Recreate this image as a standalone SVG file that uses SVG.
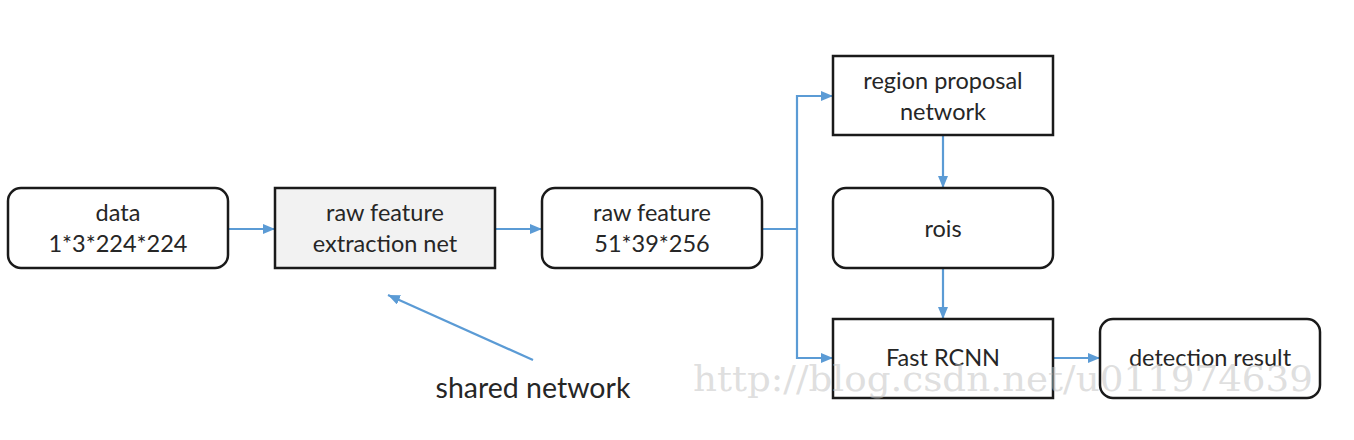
<svg xmlns="http://www.w3.org/2000/svg" width="1354" height="440" viewBox="0 0 1354 440">
<style>
.box{fill:#ffffff;stroke:#1a1a1a;stroke-width:2.5}
.gray{fill:#f2f2f2}
.t{font-family:Lato,"Open Sans",sans-serif;font-size:23.5px;fill:#262626;text-anchor:middle}
.c{fill:none;stroke:#5b9bd5;stroke-width:2.2}
</style>
<defs>
<marker id="ah" viewBox="0 0 12 10" refX="12" refY="5" markerWidth="12" markerHeight="10" markerUnits="userSpaceOnUse" orient="auto">
<path d="M0,0 L12,5 L0,10 Z" fill="#5b9bd5"/>
</marker>
</defs>
<rect width="1354" height="440" fill="#ffffff"/>
<g id="connectors">
<path class="c" d="M228,229 H275" marker-end="url(#ah)"/>
<path class="c" d="M495,229 H542" marker-end="url(#ah)"/>
<path class="c" d="M762,229 H797"/>
<path class="c" d="M797,229 V96 H833" marker-end="url(#ah)"/>
<path class="c" d="M797,229 V358 H833" marker-end="url(#ah)"/>
<path class="c" d="M943,135 V188" marker-end="url(#ah)"/>
<path class="c" d="M943,268 V319" marker-end="url(#ah)"/>
<path class="c" d="M1053,358 H1100" marker-end="url(#ah)"/>
<path class="c" d="M533,360 L388,295" marker-end="url(#ah)"/>
</g>
<g id="data">
<rect class="box" x="8" y="188" width="220" height="80" rx="13"/>
<text class="t" x="118" y="221">data</text>
<text class="t" x="118" y="252">1*3*224*224</text>
</g>
<g id="extraction">
<rect class="box gray" x="275" y="188" width="220" height="80"/>
<text class="t" x="385" y="221">raw feature</text>
<text class="t" x="385" y="252">extraction net</text>
</g>
<g id="rawfeature">
<rect class="box" x="542" y="188" width="220" height="80" rx="13"/>
<text class="t" x="652" y="221">raw feature</text>
<text class="t" x="652" y="252">51*39*256</text>
</g>
<g id="rpn">
<rect class="box" x="833" y="56" width="220" height="79"/>
<text class="t" x="943" y="89">region proposal</text>
<text class="t" x="943" y="120">network</text>
</g>
<g id="rois">
<rect class="box" x="833" y="188" width="220" height="80" rx="13"/>
<text class="t" x="943" y="237">rois</text>
</g>
<g id="fastrcnn">
<rect class="box" x="833" y="319" width="220" height="79"/>
<text class="t" x="943" y="366">Fast RCNN</text>
</g>
<g id="detection">
<rect class="box" x="1100" y="319" width="220" height="79" rx="13"/>
<text class="t" x="1210" y="366">detection result</text>
</g>
<g id="label">
<text class="t" x="533" y="398" style="font-size:28.5px">shared network</text>
</g>
<text x="693" y="391" font-family="'DejaVu Serif',serif" font-size="36" fill="#c4c4c4" fill-opacity="0.55" textLength="620" lengthAdjust="spacingAndGlyphs">http://blog.csdn.net/u011974639</text>
</svg>
